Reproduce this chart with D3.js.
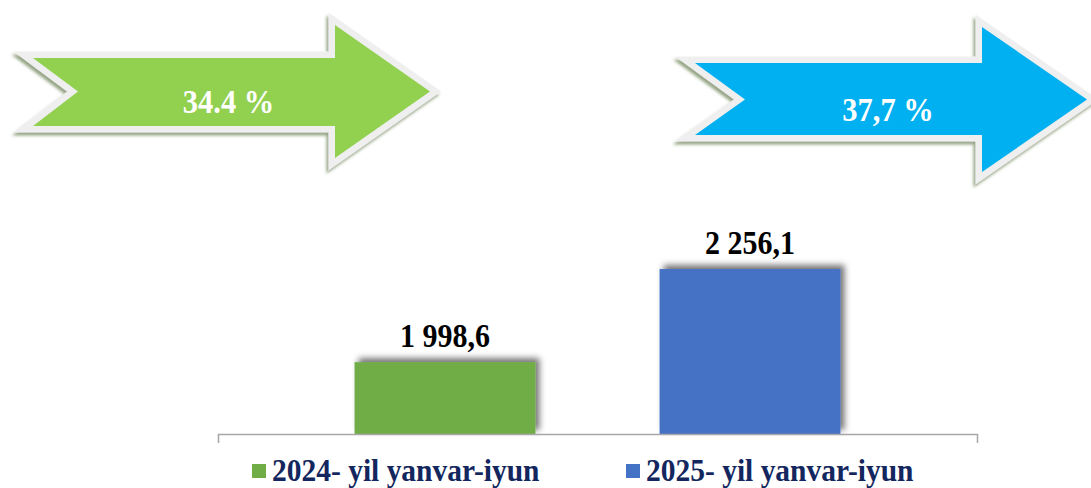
<!DOCTYPE html>
<html>
<head>
<meta charset="utf-8">
<script src="https://cdn.jsdelivr.net/npm/d3@7"></script>
<style>
  html, body { margin: 0; padding: 0; background: #ffffff; }
  svg { display: block; }
</style>
</head>
<body>
<svg id="chart" width="1091" height="488"></svg>
<script>
// ---- data ----
const categories = ["Jami"];
const seriesNames = ["2024- yil yanvar-iyun", "2025- yil yanvar-iyun"];
const seriesValues = [1998.6, 2256.1];
const valueLabels = ["1 998,6", "2 256,1"];
const growthLabels = ["34.4 %", "37,7 %"];
const seriesColors = ["#70ad47", "#4472c4"];
const arrowColors = ["#92d050", "#00b0f0"];

// ---- layout ----
const W = 1091, H = 488;
const svg = d3.select("#chart");
const serif = "'Liberation Serif', 'Times New Roman', serif";

const defs = svg.append("defs");
const barShadow = defs.append("filter").attr("id", "barShadow")
  .attr("x", "-20%").attr("y", "-20%").attr("width", "140%").attr("height", "140%");
barShadow.append("feDropShadow").attr("dx", 4).attr("dy", -4).attr("stdDeviation", 3)
  .attr("flood-color", "#000").attr("flood-opacity", 0.55);
const arrowShadow = defs.append("filter").attr("id", "arrowShadow")
  .attr("x", "-10%").attr("y", "-20%").attr("width", "120%").attr("height", "140%");
arrowShadow.append("feDropShadow").attr("dx", -2).attr("dy", 3).attr("stdDeviation", 1.5)
  .attr("flood-color", "#4f6b35").attr("flood-opacity", 0.6);

// ---- arrows (decorative) ----
const arrowBoxes = [
  { left: 33, notch: 45, headBase: 335, tip: 430, headTop: 25, headBottom: 158, shaftTop: 58, shaftBottom: 126 },
  { left: 695, notch: 50, headBase: 982, tip: 1087, headTop: 27, headBottom: 172, shaftTop: 63, shaftBottom: 135 }
];
function arrowPoints(b) {
  const my = (b.headTop + b.headBottom) / 2;
  return [
    [b.left, b.shaftTop], [b.headBase, b.shaftTop], [b.headBase, b.headTop],
    [b.tip, my], [b.headBase, b.headBottom], [b.headBase, b.shaftBottom],
    [b.left, b.shaftBottom], [b.left + b.notch, my]
  ];
}
const line = d3.line();
const arrows = svg.append("g").selectAll("g").data(arrowBoxes).join("g");
arrows.append("path")
  .attr("d", d => line(arrowPoints(d)) + "Z")
  .attr("fill", "#efefef").attr("stroke", "#efefef").attr("stroke-width", 13)
  .attr("stroke-linejoin", "miter").attr("stroke-miterlimit", 6)
  .attr("filter", "url(#arrowShadow)");
arrows.append("path")
  .attr("d", d => line(arrowPoints(d)) + "Z")
  .attr("fill", (d, i) => arrowColors[i]);
arrows.append("text")
  .attr("transform", d => `translate(${(d.left + d.tip) / 2 - 3},${(d.headTop + d.headBottom) / 2 + 21}) scale(1,1.08)`)
  .attr("text-anchor", "middle")
  .attr("font-family", serif).attr("font-weight", "bold").attr("font-size", 30.5)
  .attr("fill", "#ffffff")
  .text((d, i) => growthLabels[i]);

// ---- bar chart ----
const plot = { left: 218, right: 977, top: 217, bottom: 434 };
const x0 = d3.scaleBand().domain(categories).range([plot.left, plot.right])
  .paddingInner(0).paddingOuter(0.281);
const x1 = d3.scaleBand().domain(seriesNames).range([0, x0.bandwidth()]).paddingInner(0.407);
const y = d3.scaleLinear().domain([1800, 2400]).range([plot.bottom, plot.top]);

const rows = seriesNames.map((s, i) => ({ series: s, value: seriesValues[i], label: valueLabels[i], color: seriesColors[i] }));

const g = svg.append("g");
g.selectAll("rect.bar").data(rows).join("rect")
  .attr("class", "bar")
  .attr("x", d => x0(categories[0]) + x1(d.series))
  .attr("y", d => y(d.value))
  .attr("width", x1.bandwidth())
  .attr("height", d => y.range()[0] - y(d.value))
  .attr("fill", d => d.color)
  .attr("filter", "url(#barShadow)");

g.selectAll("text.val").data(rows).join("text")
  .attr("class", "val")
  .attr("transform", d => `translate(${x0(categories[0]) + x1(d.series) + x1.bandwidth() / 2},${y(d.value) - 15}) scale(1,1.1)`)
  .attr("text-anchor", "middle")
  .attr("font-family", serif).attr("font-weight", "bold").attr("font-size", 30)
  .attr("fill", "#000")
  .text(d => d.label);

// x axis (category labels hidden)
const axis = d3.axisBottom(x0).tickSize(0).tickSizeOuter(9).tickFormat(() => "");
const ax = svg.append("g").attr("transform", `translate(0,${plot.bottom})`).call(axis);
ax.select(".domain").attr("stroke", "#a6a6a6").attr("stroke-width", 1.5);

// ---- legend ----
const legendX = [252, 626];
const leg = svg.append("g").selectAll("g").data(rows).join("g")
  .attr("transform", (d, i) => `translate(${legendX[i]},464)`);
leg.append("rect").attr("width", 14).attr("height", 14).attr("fill", d => d.color);
leg.append("text").attr("transform", "translate(20,17) scale(1,1.06)")
  .attr("font-family", serif).attr("font-weight", "bold").attr("font-size", 29.5)
  .attr("fill", "#13275e")
  .text(d => d.series);
</script>
</body>
</html>
